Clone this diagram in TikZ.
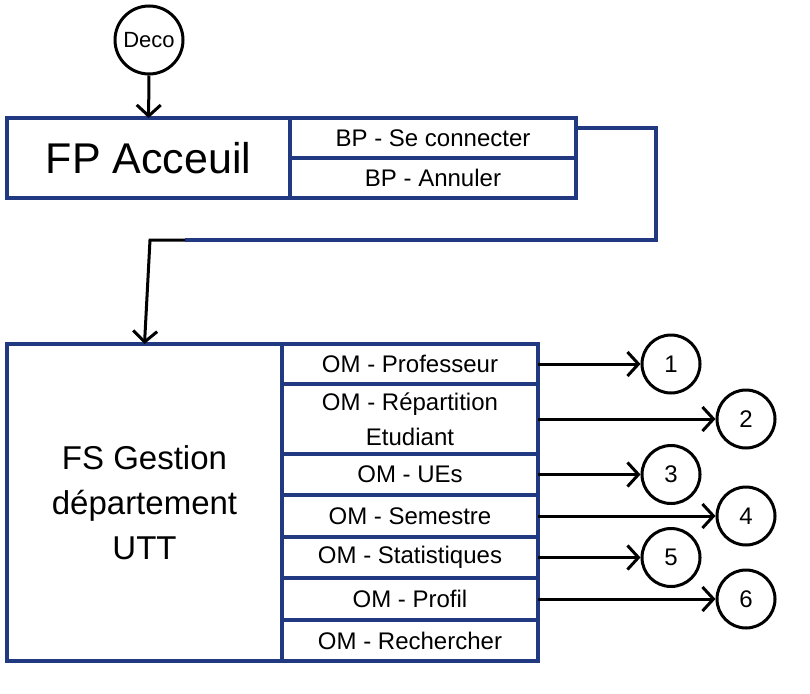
\documentclass[tikz,border=0pt]{standalone}
\usepackage{fontspec}
\setmainfont{Liberation Sans}
\usetikzlibrary{arrows.meta}
\usetikzlibrary{positioning}
\definecolor{boxblue}{RGB}{33,57,128}

\begin{document}
\begin{tikzpicture}[x=1pt,y=-1pt,line width=3pt,
                    >={Straight Barb[length=11pt,width=24pt]},
                    frame/.style={draw=boxblue,line width=4pt,outer sep=0pt,inner sep=0pt,align=center},
                    bp item/.style={frame,minimum width=286pt,minimum height=40pt,font=\fontsize{24}{30}\selectfont},
                    menu item/.style={frame,minimum width=256pt,font=\fontsize{24}{35}\selectfont},
                    end node/.style={circle,draw,line width=3pt,minimum size=58pt,inner sep=0pt,font=\fontsize{24}{28}\selectfont}]

  \useasboundingbox (0,0) rectangle (810,693);

  \node[end node,minimum size=68pt,font=\fontsize{22}{26}\selectfont] (deco) at (149,40) {Deco};

  % fenetre principale
  \node[frame,minimum width=283pt,minimum height=80pt,font=\fontsize{43}{50}\selectfont] (fpa) at (148.5,158) {FP Acceuil};
  \node[bp item,below right=0pt and 0pt of fpa.north east] (bpco) {BP - Se connecter};
  \node[bp item,below=0pt of bpco] (bpan) {BP - Annuler};

  % fenetre secondaire
  \node[frame,minimum width=275pt,minimum height=317pt,font=\fontsize{33}{45}\selectfont] (fsg) at (144.5,502.5) {FS Gestion\\département\\UTT};
  \node[menu item,minimum height=40pt,below right=0pt and 0pt of fsg.north east] (omprof) {OM - Professeur};
  \node[menu item,minimum height=70pt,below=0pt of omprof] (omrep) {OM - Répartition\\Etudiant};
  \node[menu item,minimum height=41pt,below=0pt of omrep] (omue) {OM - UEs};
  \node[menu item,minimum height=42pt,below=0pt of omue] (omsem) {OM - Semestre};
  \node[menu item,minimum height=41pt,below=0pt of omsem] (omstat) {OM - Statistiques};
  \node[menu item,minimum height=42pt,below=0pt of omstat] (omprofil) {OM - Profil};
  \node[menu item,minimum height=41pt,below=0pt of omprofil] (omrech) {OM - Rechercher};

  \node[end node] (n1) at (671,364) {1};
  \node[end node] (n2) at (746,419) {2};
  \node[end node] (n3) at (671,474.5) {3};
  \node[end node] (n4) at (746,516) {4};
  \node[end node] (n5) at (671,557.5) {5};
  \node[end node] (n6) at (746,599) {6};

  \coordinate (bend) at (185,240);
  \coordinate (corner) at (150,240);

  \draw[boxblue,line width=4pt] ([yshift=10pt]bpco.east) -| (656,240) -- (bend);
  \draw[->] (bend) -- (corner) -- (fsg.north);

  \path[->]
    (deco) edge (fpa)
    (omprof) edge (n1)
    (omrep) edge (n2)
    (omue) edge (n3)
    (omsem) edge (n4)
    (omstat) edge (n5)
    (omprofil) edge (n6)
  ;
\end{tikzpicture}
\end{document}
